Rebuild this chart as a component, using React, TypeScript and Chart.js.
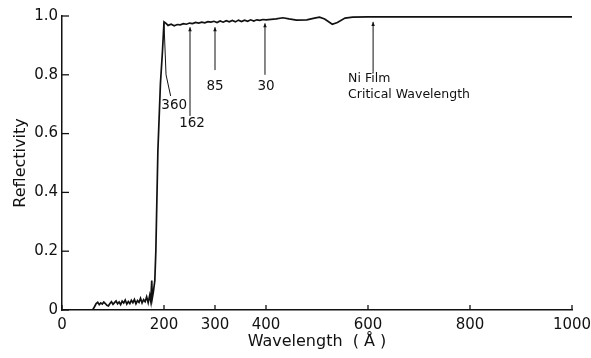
import React, { useEffect, useRef } from "react";
import { Chart, registerables } from "chart.js";

Chart.register(...registerables);

// Measured curve: wavelength (Å) and reflectivity
const wavelength = [
  0, 58, 61, 64, 67, 70, 73, 76, 79, 82, 85, 88, 91, 94, 97, 100, 103, 106, 109, 112,
  115, 118, 121, 124, 127, 130, 133, 136, 139, 142, 145, 148, 151, 154, 157, 160, 163,
  166, 169, 172, 174, 176, 177, 179, 182, 184, 188, 193, 197, 200, 204, 208, 214, 220,
  226, 232, 238, 244, 250, 256, 262, 268, 274, 280, 286, 292, 298, 304, 310, 316, 322,
  328, 334, 340, 346, 352, 358, 364, 370, 376, 382, 388, 394, 400, 420, 433, 445, 460,
  480, 495, 505, 515, 530, 540, 555, 570, 600, 650, 700, 750, 800, 850, 900, 950, 1000,
];
const reflectivity = [
  0, 0, 0.003, 0.012, 0.022, 0.026, 0.018, 0.024, 0.02, 0.027, 0.022, 0.016, 0.014,
  0.022, 0.028, 0.019, 0.025, 0.031, 0.021, 0.027, 0.018, 0.03, 0.024, 0.034, 0.02,
  0.029, 0.022, 0.033, 0.025, 0.036, 0.021, 0.032, 0.026, 0.04, 0.024, 0.035, 0.028,
  0.045, 0.025, 0.05, 0.03, 0.1, 0.04, 0.06, 0.1, 0.2, 0.54, 0.77, 0.88, 0.98, 0.975,
  0.968, 0.972, 0.967, 0.971, 0.97, 0.974, 0.972, 0.976, 0.974, 0.978, 0.976, 0.979,
  0.977, 0.981, 0.979, 0.982, 0.978, 0.983, 0.979, 0.984, 0.98, 0.985, 0.98, 0.986,
  0.981, 0.986, 0.982, 0.987, 0.983, 0.987, 0.985, 0.988, 0.987, 0.99, 0.994, 0.99,
  0.986, 0.987, 0.993, 0.996, 0.99, 0.972, 0.978, 0.993, 0.996, 0.997, 0.998, 0.997,
  0.998, 0.997, 0.998, 0.997, 0.998, 0.997,
];

const xTickValues = [0, 200, 300, 400, 600, 800, 1000];
const yTickValues = [0, 0.2, 0.4, 0.6, 0.8, 1.0];
const yTickLabels = ["0", "0.2", "0.4", "0.6", "0.8", "1.0"];

// Callouts (data coordinates)
const calloutLineX = [
  [200, 204, 213],
  [251, 251],
  [300, 300],
  [398, 398],
  [610, 610],
];
const calloutLineY = [
  [0.975, 0.8, 0.728],
  [0.962, 0.66],
  [0.962, 0.816],
  [0.975, 0.8],
  [0.98, 0.81],
];
const calloutText = [["360"], ["162"], ["85"], ["30"], ["Ni Film", "Critical Wavelength"]];
const calloutTextX = [220, 255, 300, 400, 561];
const calloutTextY = [[0.695], [0.635], [0.761], [0.761], [0.785, 0.731]];
const calloutAlign = ["center", "center", "center", "center", "left"];

const FONT = "'DejaVu Sans', sans-serif";

const extrasPlugin = {
  id: "extras",
  afterDraw(chart: any) {
    const { ctx, scales } = chart;
    const xs = scales.x;
    const ys = scales.y;
    ctx.save();
    ctx.strokeStyle = "#111";
    ctx.fillStyle = "#111";
    // inward tick marks
    ctx.lineWidth = 1.3;
    xTickValues.forEach((v) => {
      const px = xs.getPixelForValue(v);
      ctx.beginPath();
      ctx.moveTo(px, ys.bottom);
      ctx.lineTo(px, ys.bottom - 5);
      ctx.stroke();
    });
    yTickValues.forEach((v) => {
      const py = ys.getPixelForValue(v);
      ctx.beginPath();
      ctx.moveTo(xs.left, py);
      ctx.lineTo(xs.left + 7, py);
      ctx.stroke();
    });
    // callouts
    ctx.lineWidth = 1;
    calloutLineX.forEach((lx, i) => {
      const ly = calloutLineY[i];
      ctx.beginPath();
      lx.forEach((x, j) => {
        const px = xs.getPixelForValue(x);
        const py = ys.getPixelForValue(ly[j]);
        if (j === 0) ctx.moveTo(px, py);
        else ctx.lineTo(px, py);
      });
      ctx.stroke();
      const tx = xs.getPixelForValue(lx[0]);
      const ty = ys.getPixelForValue(ly[0]);
      if (i > 0) {
        ctx.beginPath();
        ctx.moveTo(tx, ty);
        ctx.lineTo(tx - 1.8, ty + 4);
        ctx.lineTo(tx + 1.8, ty + 4);
        ctx.closePath();
        ctx.fill();
      }
      ctx.textAlign = calloutAlign[i] as CanvasTextAlign;
      ctx.textBaseline = "middle";
      ctx.font = i === 4 ? `12.5px ${FONT}` : `13.5px ${FONT}`;
      calloutText[i].forEach((t, k) => {
        ctx.fillText(t, xs.getPixelForValue(calloutTextX[i]), ys.getPixelForValue(calloutTextY[i][k]));
      });
    });
    ctx.restore();
  },
};

export default function App() {
  const ref = useRef<HTMLCanvasElement>(null);
  useEffect(() => {
    if (!ref.current) return;
    const points = wavelength.map((w, i) => ({ x: w, y: reflectivity[i] }));
    const chart = new Chart(ref.current, {
      type: "line",
      data: {
        datasets: [
          {
            data: points,
            borderColor: "#111",
            borderWidth: 1.7,
            pointRadius: 0,
            tension: 0,
            fill: false,
          },
        ],
      },
      options: {
        animation: false,
        responsive: false,
        devicePixelRatio: 1,
        layout: { padding: { left: 0, right: 19, top: 16, bottom: 0 } },
        plugins: { legend: { display: false }, tooltip: { enabled: false } },
        scales: {
          x: {
            type: "linear",
            min: 0,
            max: 1000,
            afterBuildTicks: (scale: any) => {
              scale.ticks = xTickValues.map((v) => ({ value: v }));
            },
            afterFit: (scale: any) => {
              scale.height = 48;
              scale.paddingLeft = 0;
              scale.paddingRight = 0;
            },
            grid: { display: false, drawTicks: false },
            border: { display: true, color: "#111", width: 1.5 },
            ticks: {
              color: "#111",
              font: { family: FONT, size: 15 },
              padding: 6,
              maxRotation: 0,
              autoSkip: false,
              callback: (v: any) => String(v),
            },
            title: {
              display: true,
              text: "Wavelength  ( Å )",
              color: "#111",
              font: { family: FONT, size: 16 },
              padding: { top: 0, bottom: 7 },
            },
          },
          y: {
            type: "linear",
            min: 0,
            max: 1,
            afterBuildTicks: (scale: any) => {
              scale.ticks = yTickValues.map((v) => ({ value: v }));
            },
            afterFit: (scale: any) => {
              scale.width = 62;
              scale.paddingTop = 0;
              scale.paddingBottom = 0;
            },
            grid: { display: false, drawTicks: false },
            border: { display: true, color: "#111", width: 1.5 },
            ticks: {
              color: "#111",
              font: { family: FONT, size: 15 },
              padding: 4,
              autoSkip: false,
              callback: (v: any) => {
                const i = yTickValues.findIndex((t) => Math.abs(t - v) < 1e-6);
                return i >= 0 ? yTickLabels[i] : "";
              },
            },
            title: {
              display: true,
              text: "Reflectivity",
              color: "#111",
              font: { family: FONT, size: 16 },
              padding: { top: 11, bottom: 0 },
            },
          },
        },
      },
      plugins: [extrasPlugin],
    });
    return () => chart.destroy();
  }, []);
  return (
    <canvas
      ref={ref}
      width={591}
      height={358}
      style={{ position: "fixed", left: 0, top: 0, width: 591, height: 358, background: "#fff" }}
    />
  );
}
